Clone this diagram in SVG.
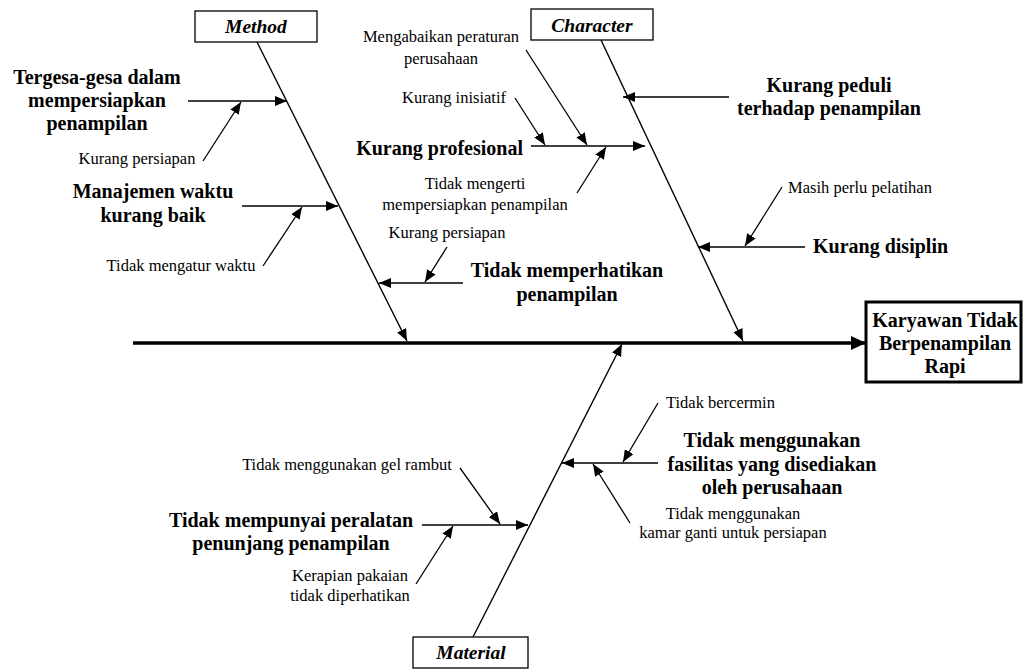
<svg xmlns="http://www.w3.org/2000/svg" width="1025" height="669" viewBox="0 0 1025 669">
  <style>
    .ln { stroke: #000; stroke-width: 1.3; fill: none; marker-end: url(#ah); }
    .bone { stroke: #000; stroke-width: 1.4; fill: none; marker-end: url(#ah); }
    .spine { stroke: #000; stroke-width: 3.5; fill: none; marker-end: url(#ahBig); }
    .box { fill: #fff; stroke: #000; stroke-width: 1.3; }
    .head { fill: #fff; stroke: #000; stroke-width: 3; }
    .b { font-family: "Liberation Serif", "Times New Roman", serif; font-weight: bold; font-size: 20px; fill: #000; }
    .r { font-family: "Liberation Serif", "Times New Roman", serif; font-size: 16.5px; fill: #000; }
    .cat { font-family: "Liberation Serif", "Times New Roman", serif; font-weight: bold; font-style: italic; font-size: 19.5px; fill: #000; text-anchor: middle; }
    .m { text-anchor: middle; }
  </style>
  <defs>
    <marker id="ah" markerUnits="userSpaceOnUse" markerWidth="12" markerHeight="10" refX="12" refY="5" orient="auto">
      <path d="M0,0 L12,5 L0,10 z" fill="#000"/>
    </marker>
    <marker id="ahBig" markerUnits="userSpaceOnUse" markerWidth="15" markerHeight="14" refX="15" refY="7" orient="auto">
      <path d="M0,0 L15,7 L0,14 z" fill="#000"/>
    </marker>
  </defs>

  <rect width="1025" height="669" fill="#fff"/>

  <!-- connectors: spine, category bones, causes and sub-causes -->
  <g id="connectors">
    <line class="spine" x1="133" y1="343" x2="866" y2="343"/>

    <line class="bone" x1="257" y1="42" x2="407" y2="341"/>
    <line class="bone" x1="601" y1="40" x2="743" y2="341"/>
    <line class="bone" x1="473" y1="637" x2="622" y2="344"/>

    <!-- Method -->
    <line class="ln" x1="188" y1="101" x2="287" y2="101"/>
    <line class="ln" x1="203" y1="161" x2="241" y2="102"/>
    <line class="ln" x1="242" y1="206" x2="338" y2="206"/>
    <line class="ln" x1="263" y1="266" x2="302" y2="207"/>
    <line class="ln" x1="463" y1="283" x2="379" y2="283"/>
    <line class="ln" x1="447" y1="247" x2="425" y2="282"/>

    <!-- Character -->
    <line class="ln" x1="729" y1="97" x2="623" y2="97"/>
    <line class="ln" x1="531" y1="146" x2="645" y2="146"/>
    <line class="ln" x1="526" y1="50" x2="587" y2="145"/>
    <line class="ln" x1="515" y1="98" x2="545" y2="145"/>
    <line class="ln" x1="577" y1="193" x2="606" y2="147"/>
    <line class="ln" x1="805" y1="247" x2="698" y2="247"/>
    <line class="ln" x1="782" y1="187" x2="745" y2="246"/>

    <!-- Material -->
    <line class="ln" x1="422" y1="525" x2="528" y2="525"/>
    <line class="ln" x1="460" y1="468" x2="500" y2="524"/>
    <line class="ln" x1="416" y1="584" x2="453" y2="526"/>
    <line class="ln" x1="658" y1="463" x2="562" y2="463"/>
    <line class="ln" x1="658" y1="403" x2="623" y2="462"/>
    <line class="ln" x1="630" y1="523" x2="593" y2="464"/>
  </g>

  <!-- effect -->
  <g id="effect">
    <rect class="head" x="866" y="302" width="155" height="80"/>
    <text class="b m" x="945" y="327">Karyawan Tidak</text>
    <text class="b m" x="945" y="350">Berpenampilan</text>
    <text class="b m" x="945" y="373">Rapi</text>
  </g>

  <!-- categories -->
  <g id="method">
    <rect class="box" x="195" y="11" width="122" height="31"/>
    <text class="cat" x="256" y="33">Method</text>
  </g>
  <g id="character">
    <rect class="box" x="531" y="9" width="122" height="31"/>
    <text class="cat" x="592" y="32">Character</text>
  </g>
  <g id="material">
    <rect class="box" x="413" y="637" width="115" height="31"/>
    <text class="cat" x="471" y="659">Material</text>
  </g>

  <!-- Method causes -->
  <g id="tergesa">
    <text class="b m" x="97" y="84">Tergesa-gesa dalam</text>
    <text class="b m" x="97" y="107">mempersiapkan</text>
    <text class="b m" x="97" y="130">penampilan</text>
  </g>
  <g id="kurang-persiapan-1">
    <text class="r m" x="137" y="164">Kurang persiapan</text>
  </g>
  <g id="manajemen">
    <text class="b m" x="153" y="198">Manajemen waktu</text>
    <text class="b m" x="153" y="222">kurang baik</text>
  </g>
  <g id="tidak-mengatur">
    <text class="r m" x="181" y="271">Tidak mengatur waktu</text>
  </g>
  <g id="tidak-memperhatikan">
    <text class="b m" x="567" y="277">Tidak memperhatikan</text>
    <text class="b m" x="567" y="301">penampilan</text>
  </g>
  <g id="kurang-persiapan-2">
    <text class="r m" x="447" y="238">Kurang persiapan</text>
  </g>

  <!-- Character causes -->
  <g id="mengabaikan">
    <text class="r m" x="441" y="42">Mengabaikan peraturan</text>
    <text class="r m" x="441" y="64">perusahaan</text>
  </g>
  <g id="inisiatif">
    <text class="r m" x="454" y="103">Kurang inisiatif</text>
  </g>
  <g id="profesional">
    <text class="b" x="523" y="155" text-anchor="end">Kurang profesional</text>
  </g>
  <g id="tidak-mengerti">
    <text class="r m" x="475" y="189">Tidak mengerti</text>
    <text class="r m" x="475" y="210">mempersiapkan penampilan</text>
  </g>
  <g id="peduli">
    <text class="b m" x="829" y="92">Kurang peduli</text>
    <text class="b m" x="829" y="115">terhadap penampilan</text>
  </g>
  <g id="pelatihan">
    <text class="r" x="788" y="193">Masih perlu pelatihan</text>
  </g>
  <g id="disiplin">
    <text class="b" x="813" y="253">Kurang disiplin</text>
  </g>

  <!-- Material causes -->
  <g id="gel">
    <text class="r m" x="347" y="470">Tidak menggunakan gel rambut</text>
  </g>
  <g id="peralatan">
    <text class="b m" x="291" y="527">Tidak mempunyai peralatan</text>
    <text class="b m" x="291" y="550">penunjang penampilan</text>
  </g>
  <g id="kerapian">
    <text class="r m" x="350" y="581">Kerapian pakaian</text>
    <text class="r m" x="350" y="601">tidak diperhatikan</text>
  </g>
  <g id="bercermin">
    <text class="r" x="666" y="408">Tidak bercermin</text>
  </g>
  <g id="fasilitas">
    <text class="b m" x="772" y="447">Tidak menggunakan</text>
    <text class="b m" x="772" y="471">fasilitas yang disediakan</text>
    <text class="b m" x="772" y="494">oleh perusahaan</text>
  </g>
  <g id="kamar">
    <text class="r m" x="733" y="519">Tidak menggunakan</text>
    <text class="r m" x="733" y="538">kamar ganti untuk persiapan</text>
  </g>
</svg>
